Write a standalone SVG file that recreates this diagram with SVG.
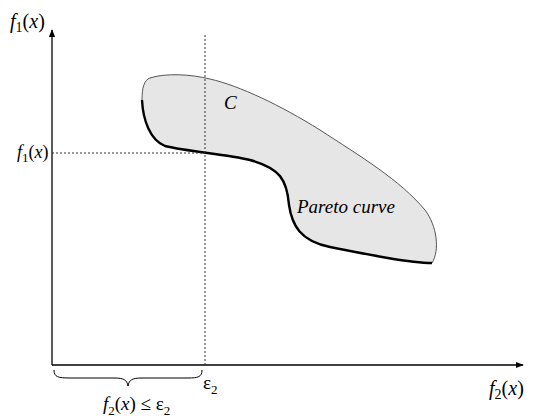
<svg xmlns="http://www.w3.org/2000/svg" width="533" height="418" viewBox="0 0 533 418">
<defs>
<marker id="arr" viewBox="0 0 10 10" refX="9" refY="5" markerWidth="8" markerHeight="8" markerUnits="userSpaceOnUse" orient="auto"><path d="M0,1 L10,5 L0,9 Z" fill="#000"/></marker>
</defs>
<style>
.t{fill:#000}
.i{font-style:italic}
.ax{stroke:#000;stroke-width:1.3;fill:none}
.dash{stroke:#333;stroke-width:1;stroke-dasharray:2,2;fill:none}
</style>
<rect width="533" height="418" fill="#fff"/>
<g id="region" font-family="'Liberation Serif', 'Times New Roman', serif">
<path d="M150,78 C165,73 190,74 210,79 C240,86 280,105 320,130 C360,156 400,180 425,210 C437,226 440,250 432,263 C410,263 370,255 330,247 C300,241 292,225 289,205 C287,180 280,168 250,160 C225,154 190,152 165,146 C150,140 143,120 142,100 C142,88 144,80 150,78 Z" fill="#e6e6e6" stroke="#555" stroke-width="1"/>
<path d="M142,100 C143,120 150,140 165,146 C190,152 225,154 250,160 C280,168 287,180 289,205 C292,225 300,241 330,247 C370,255 410,263 432,263" fill="none" stroke="#000" stroke-width="2.4"/>
<text class="t i" x="224" y="109" font-size="19">C</text>
<text class="t i" x="297" y="213" font-size="19">Pareto curve</text>
</g>
<g id="connectors">
<line class="ax" x1="52" y1="365" x2="52" y2="30" marker-end="url(#arr)"/>
<line class="ax" x1="52" y1="365" x2="523" y2="365" marker-end="url(#arr)"/>
<line class="dash" x1="52" y1="153" x2="205" y2="153"/>
<line class="dash" x1="205" y1="35" x2="205" y2="365"/>
<path d="M54,370 C54,377 58,378 70,378 L114,378 C124,378 127,380 128,386 C129,380 132,378 142,378 L188,378 C198,378 202,377 202,370" fill="none" stroke="#000" stroke-width="1"/>
</g>
<g id="labels" font-family="'Liberation Serif', 'Times New Roman', serif">
<text class="t" x="10" y="28" font-size="20"><tspan class="i">f</tspan><tspan font-size="14" dy="4">1</tspan><tspan dy="-4">(</tspan><tspan class="i">x</tspan>)</text>
<text class="t" x="17" y="158" font-size="18"><tspan class="i">f</tspan><tspan font-size="13" dy="4">1</tspan><tspan dy="-4">(</tspan><tspan class="i">x</tspan>)</text>
<text class="t" x="489" y="395" font-size="20"><tspan class="i">f</tspan><tspan font-size="14" dy="4">2</tspan><tspan dy="-4">(</tspan><tspan class="i">x</tspan>)</text>
<text class="t" x="203" y="389" font-size="19">ε<tspan font-size="13" dy="5">2</tspan></text>
<text class="t" x="103" y="410" font-size="19"><tspan class="i">f</tspan><tspan font-size="13" dy="5">2</tspan><tspan dy="-5">(</tspan><tspan class="i">x</tspan>) ≤ ε<tspan font-size="13" dy="5">2</tspan></text>
</g>
</svg>
